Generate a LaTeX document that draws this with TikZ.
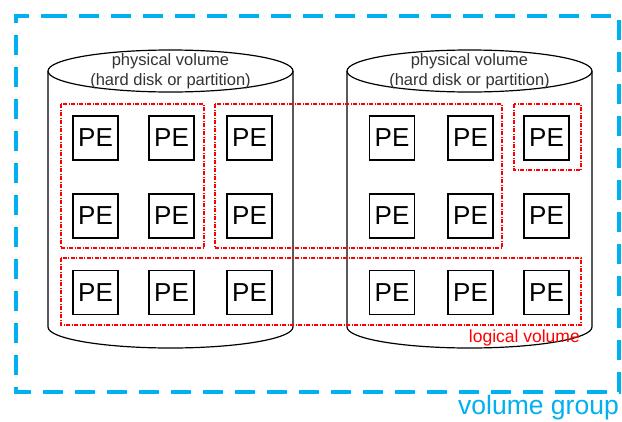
\documentclass[tikz,border=0pt]{standalone}
\usepackage{fontspec}
\setmainfont{Liberation Sans}
\definecolor{vgblue}{RGB}{0,176,240}
\begin{document}
\begin{tikzpicture}[x=1pt,y=-1pt,
  pe/.style={draw=black,line width=1.4pt,minimum width=45pt,minimum height=44pt,inner sep=0pt,font=\fontsize{26}{26}\selectfont},
  cyl/.style={draw=black,line width=1.2pt},
  lv/.style={draw=red,line width=1.3pt,dash pattern=on 4pt off 1.5pt on 1pt off 1.5pt},
  cyltext/.style={font=\fontsize{16.5}{19.5}\selectfont,align=center,text=black!80}]
\useasboundingbox (0,0) rectangle (622,421);
\fill[white] (0,0) rectangle (622,421);
% volume group
\draw[vgblue,line width=4pt,dash pattern=on 20pt off 12pt] (47,16) -- (619,16) -- (619,392) -- (16,392) -- (16,16) -- cycle;
\node[anchor=base east,text=vgblue,font=\fontsize{26.5}{26.5}\selectfont,inner sep=0pt] (vg) at (619,414) {volume group};
% cylinders
\foreach \cx/\nm in {170.5/L,469.5/R}{
  \draw[cyl] (\cx-122.5,71) -- (\cx-122.5,327)
    .. controls (\cx-122.5,338.6) and (\cx-67.6,348) .. (\cx,348)
    .. controls (\cx+67.6,348) and (\cx+122.5,338.6) .. (\cx+122.5,327)
    -- (\cx+122.5,71);
  \draw[cyl,fill=white] (\cx,71) ellipse[x radius=122.5pt,y radius=21pt];
  \node[cyltext] (pv\nm) at (\cx,71) {physical volume\\(hard disk or partition)};
}
% PE boxes
\foreach \x [count=\i] in {95.5,171.5,249.5,392,470.5,546.5}{
  \foreach \y [count=\j] in {138,216,292.5}{
    \node[pe] (pe\i\j) at (\x,\y) {PE};
  }
}
% logical volumes
\draw[lv] (61,104) rectangle (204,248);
\draw[lv] (215,104) rectangle (502,248);
\draw[lv] (514,104) rectangle (581,170);
\draw[lv] (61,258) rectangle (581,325);
\node[anchor=base east,text=red,font=\fontsize{17.5}{17.5}\selectfont,inner sep=0pt] (lvl) at (580,342) {logical volume};
\end{tikzpicture}
\end{document}
